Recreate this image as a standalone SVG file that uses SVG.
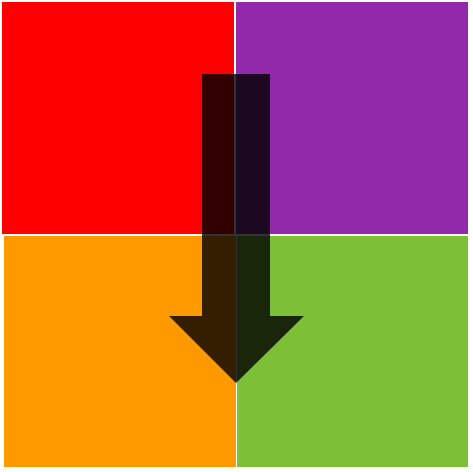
<svg xmlns="http://www.w3.org/2000/svg" width="473" height="472" viewBox="0 0 473 472">
<style>
.q{stroke:none}
.arrow{fill:#000;fill-opacity:0.8}
</style>
<rect width="473" height="472" fill="#fff"/>
<g id="red"><rect class="q" x="2" y="2" width="232" height="232" fill="#ff0000"/></g>
<g id="purple"><rect class="q" x="236" y="2" width="232" height="232" fill="#9229aa"/></g>
<g id="orange"><rect class="q" x="4" y="236" width="232" height="231" fill="#ff9900"/></g>
<g id="green"><rect class="q" x="237" y="236" width="231" height="231" fill="#7dbf36"/></g>
<g id="connectors">
<polygon class="arrow" points="202,74 270,74 270,316 304,316 236,383 169,316 202,316"/>
</g>
</svg>
